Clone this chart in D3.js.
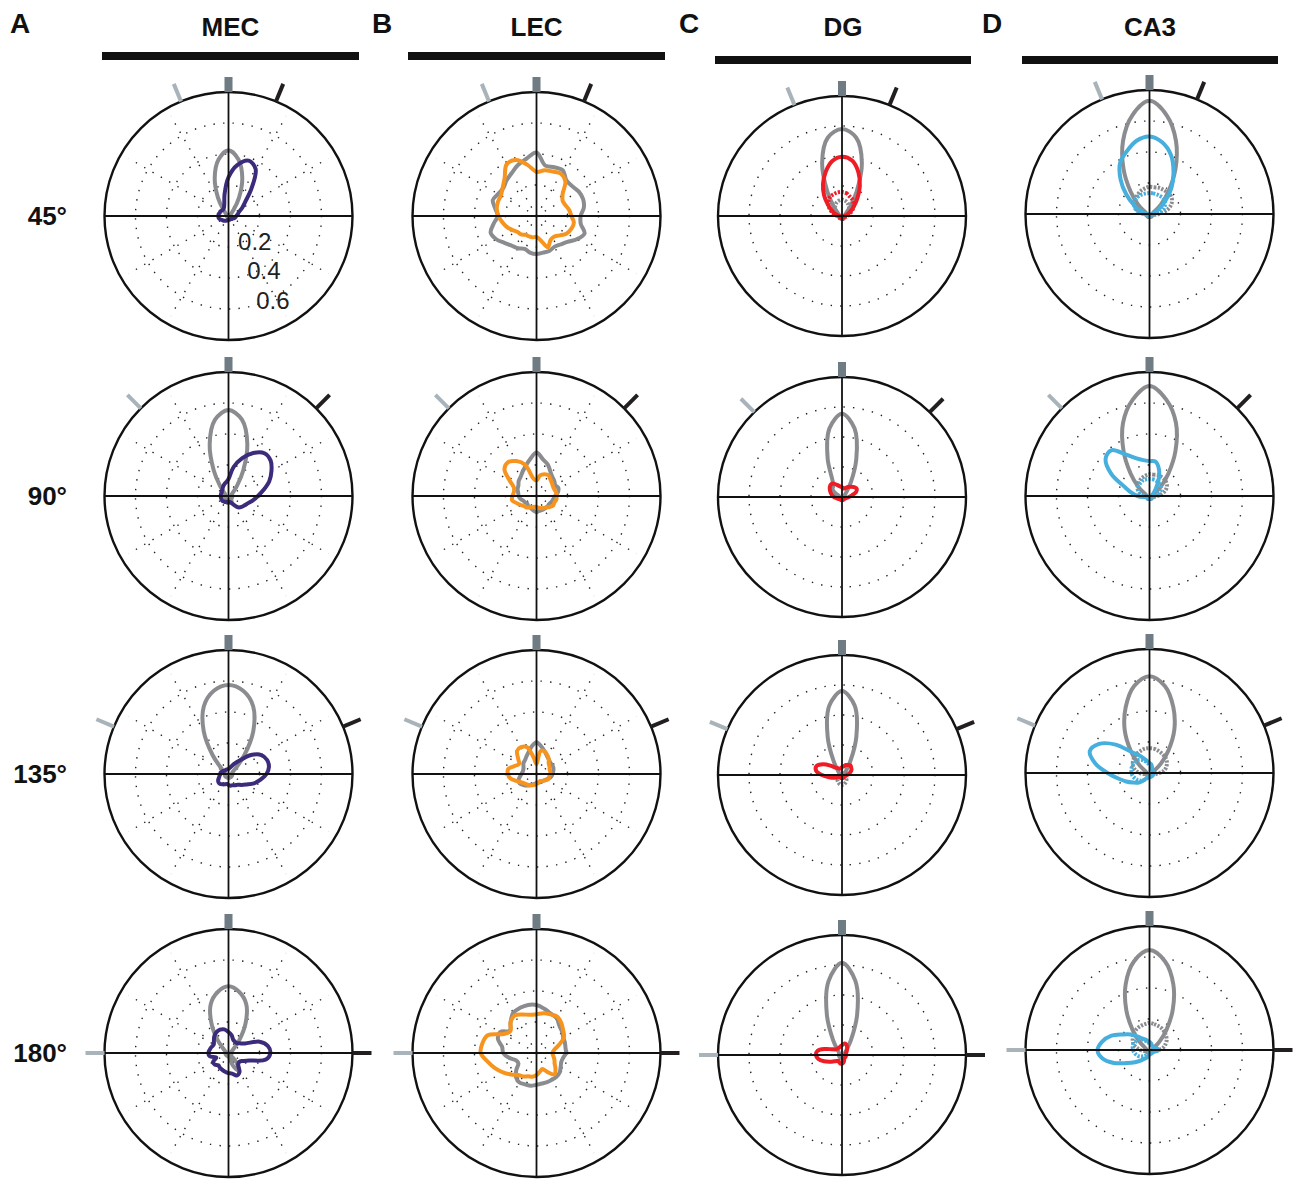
<!DOCTYPE html>
<html>
<head>
<meta charset="utf-8">
<script src="https://cdn.jsdelivr.net/npm/d3@7"></script>
<style>
  body { margin: 0; background: #fff; }
  svg { display: block; }
</style>
</head>
<body>
<svg id="chart" width="1298" height="1180"></svg>
<script>
// ---- categories ----
const regions = ["MEC", "LEC", "DG", "CA3"];
const panelLetters = ["A", "B", "C", "D"];
const rotations = [45, 90, 135, 180];
const rotationLabels = ["45°", "90°", "135°", "180°"];
const ringTicks = [0.2, 0.4, 0.6];
const ringTickLabels = ["0.2", "0.4", "0.6"];
const rMax = 0.8;
// sample directions (degrees clockwise from the standard-cue direction)
const sampleAngles = d3.range(0, 360, 10);

// ---- MEC: standard (gray) and rotated (purple) curves, one row per rotation ----
const mecStandard = [
  [.425,.37,.26,.135,.05,.02,.012,.01,.01,.01,.01,.01,.01,.01,.01,.01,.01,.01,.01,.01,.01,.01,.01,.01,.01,.01,.01,.01,.01,.01,.012,.02,.05,.135,.26,.37],
  [.555,.50,.355,.19,.085,.04,.025,.025,.025,.025,.025,.025,.025,.025,.025,.04,.045,.045,.045,.045,.04,.025,.025,.025,.025,.025,.025,.025,.025,.025,.025,.04,.085,.19,.355,.50],
  [.575,.545,.465,.32,.16,.065,.035,.025,.025,.025,.025,.025,.025,.025,.025,.025,.025,.025,.025,.025,.025,.025,.025,.025,.025,.025,.025,.025,.025,.025,.035,.065,.16,.32,.465,.545],
  [.43,.40,.335,.22,.11,.045,.026,.02,.02,.02,.02,.02,.02,.02,.08,.13,.09,.03,.02,.02,.02,.02,.02,.02,.02,.02,.02,.02,.02,.02,.026,.045,.11,.22,.335,.40]
];
const mecRotated = [
  [.25,.335,.38,.35,.23,.14,.10,.07,.06,.05,.045,.04,.03,.03,.025,.025,.025,.025,.025,.03,.03,.035,.04,.045,.05,.06,.065,.065,.065,.06,.06,.055,.055,.06,.08,.145],
  [.11,.19,.26,.32,.36,.355,.32,.28,.23,.19,.16,.135,.12,.11,.095,.065,.045,.04,.04,.04,.04,.045,.045,.05,.05,.05,.05,.05,.05,.05,.05,.055,.06,.07,.08,.09],
  [.032,.039,.052,.077,.116,.19,.245,.265,.265,.245,.21,.175,.135,.11,.09,.084,.077,.077,.071,.065,.071,.077,.084,.084,.077,.065,.058,.052,.052,.045,.039,.032,.032,.032,.032,.032],
  [.135,.116,.09,.084,.084,.097,.123,.213,.258,.27,.245,.142,.103,.09,.097,.142,.155,.135,.13,.123,.116,.11,.103,.116,.116,.084,.123,.13,.123,.116,.11,.123,.142,.155,.16,.155]
];

// ---- LEC: standard (gray) and rotated (orange) ----
const lecStandard = [
  [.41,.33,.335,.34,.30,.30,.315,.32,.31,.285,.29,.33,.30,.26,.24,.23,.24,.24,.245,.24,.225,.24,.25,.27,.30,.315,.28,.25,.27,.30,.285,.28,.30,.32,.35,.375],
  [.28,.24,.215,.18,.16,.15,.14,.15,.14,.12,.11,.105,.097,.097,.097,.097,.097,.097,.105,.097,.09,.084,.084,.077,.084,.09,.105,.115,.12,.13,.135,.15,.16,.18,.205,.24],
  [.205,.18,.155,.135,.123,.116,.116,.116,.11,.103,.097,.084,.071,.065,.058,.058,.058,.058,.058,.065,.071,.084,.097,.11,.123,.123,.11,.097,.09,.09,.097,.11,.116,.13,.15,.18],
  [.31,.29,.27,.26,.23,.215,.20,.195,.19,.19,.175,.17,.18,.195,.20,.20,.20,.20,.205,.215,.215,.22,.205,.17,.135,.14,.18,.215,.225,.265,.27,.225,.26,.30,.31,.315]
];
const lecRotated = [
  [.285,.30,.305,.315,.29,.22,.195,.20,.215,.225,.245,.24,.225,.195,.175,.18,.215,.16,.135,.14,.14,.14,.155,.16,.18,.205,.225,.245,.26,.265,.265,.285,.32,.385,.385,.335],
  [.10,.135,.15,.155,.14,.13,.123,.123,.13,.13,.13,.123,.123,.11,.097,.09,.084,.077,.071,.071,.077,.084,.097,.103,.116,.135,.16,.155,.148,.155,.20,.27,.285,.26,.215,.115],
  [.065,.15,.155,.14,.123,.103,.097,.09,.09,.09,.084,.084,.077,.065,.058,.052,.052,.058,.065,.071,.077,.084,.09,.097,.11,.135,.17,.185,.185,.15,.13,.155,.195,.20,.185,.11],
  [.25,.26,.265,.27,.25,.225,.205,.155,.116,.103,.11,.123,.135,.16,.18,.142,.11,.123,.142,.155,.16,.175,.185,.215,.25,.285,.32,.36,.355,.335,.245,.22,.26,.28,.265,.25]
];

// ---- DG: standard (gray), rotated (red), and dashed controls ----
const dgStandard = [
  [.58,.53,.375,.19,.085,.04,.026,.02,.02,.02,.02,.02,.02,.02,.02,.02,.02,.02,.02,.02,.02,.02,.02,.02,.02,.02,.02,.02,.02,.02,.026,.04,.085,.19,.375,.53],
  [.555,.465,.27,.115,.045,.026,.02,.02,.02,.02,.02,.02,.02,.02,.02,.02,.02,.02,.02,.02,.02,.02,.02,.02,.02,.02,.02,.02,.02,.02,.05,.08,.09,.12,.27,.465],
  [.56,.47,.27,.11,.045,.026,.02,.02,.02,.02,.02,.02,.02,.02,.02,.02,.02,.02,.02,.02,.02,.02,.02,.02,.02,.02,.02,.02,.02,.02,.02,.026,.045,.11,.27,.47],
  [.615,.50,.285,.115,.045,.026,.02,.02,.02,.02,.02,.02,.02,.02,.02,.02,.02,.02,.02,.02,.02,.02,.02,.02,.02,.02,.02,.02,.02,.02,.02,.026,.045,.115,.285,.50]
];
const dgRotated = [
  [.395,.375,.31,.23,.155,.10,.065,.04,.026,.015,.015,.015,.015,.015,.015,.015,.015,.015,.015,.015,.015,.015,.015,.015,.015,.015,.015,.015,.03,.05,.077,.12,.18,.245,.31,.37],
  [.065,.058,.065,.077,.09,.103,.11,.097,.065,.045,.032,.026,.02,.02,.02,.02,.02,.02,.02,.02,.02,.02,.02,.02,.026,.032,.039,.052,.065,.077,.09,.103,.11,.103,.084,.071],
  [.052,.058,.071,.077,.084,.077,.071,.058,.045,.032,.026,.02,.02,.02,.02,.02,.02,.02,.02,.02,.02,.02,.02,.02,.032,.052,.084,.13,.17,.175,.142,.097,.065,.052,.045,.045],
  [.065,.077,.077,.065,.052,.039,.032,.026,.026,.026,.026,.026,.026,.026,.026,.026,.039,.052,.058,.058,.052,.045,.052,.065,.09,.123,.155,.168,.16,.116,.077,.058,.052,.052,.052,.058]
];
const dgStandardDashed = [
  [.11,.105,.097,.084,.071,.058,.045,.032,.026,.02,.013,.013,.013,.013,.013,.013,.013,.013,.013,.013,.013,.013,.013,.013,.013,.013,.013,.02,.026,.032,.045,.058,.071,.084,.097,.105],
  null,
  [.013,.013,.013,.013,.013,.013,.013,.013,.013,.013,.013,.02,.026,.035,.045,.052,.058,.065,.065,.065,.058,.052,.045,.035,.026,.02,.013,.013,.013,.013,.013,.013,.013,.013,.013,.013],
  null
];
const dgRotatedDashed = [
  [.16,.155,.14,.13,.115,.097,.077,.058,.045,.032,.026,.02,.02,.02,.02,.02,.02,.02,.02,.02,.02,.02,.02,.02,.02,.02,.026,.032,.045,.065,.09,.115,.135,.15,.155,.16],
  null,
  null,
  null
];

// ---- CA3: standard (gray), rotated (blue), and dashed controls ----
const ca3Standard = [
  [.73,.645,.50,.335,.19,.097,.045,.026,.02,.02,.02,.02,.02,.02,.02,.02,.02,.02,.02,.02,.02,.02,.02,.02,.02,.02,.02,.02,.02,.026,.045,.097,.19,.335,.50,.645],
  [.71,.63,.50,.335,.19,.097,.045,.026,.02,.02,.02,.02,.02,.02,.02,.02,.02,.02,.02,.02,.02,.02,.02,.02,.02,.02,.02,.02,.02,.026,.045,.097,.19,.335,.50,.63],
  [.625,.57,.45,.32,.19,.097,.045,.026,.02,.02,.02,.02,.02,.02,.02,.02,.02,.02,.02,.02,.02,.02,.02,.02,.02,.02,.02,.02,.02,.026,.045,.097,.19,.32,.45,.57],
  [.645,.58,.45,.30,.17,.084,.039,.026,.02,.02,.02,.02,.02,.02,.02,.02,.02,.02,.02,.02,.02,.02,.02,.02,.02,.02,.02,.02,.02,.026,.039,.084,.17,.30,.45,.58]
];
const ca3Rotated = [
  [.50,.47,.405,.31,.22,.135,.077,.045,.026,.013,.013,.013,.013,.013,.013,.013,.013,.013,.013,.013,.013,.013,.013,.013,.013,.013,.013,.013,.032,.065,.116,.195,.29,.38,.43,.48],
  [.225,.225,.18,.116,.065,.039,.026,.02,.02,.02,.02,.02,.02,.02,.02,.02,.02,.02,.02,.02,.02,.02,.02,.02,.02,.02,.039,.077,.116,.17,.285,.37,.385,.31,.26,.235],
  [.065,.058,.045,.032,.026,.026,.026,.026,.026,.026,.026,.026,.026,.026,.026,.026,.026,.026,.026,.026,.026,.039,.065,.097,.123,.16,.205,.27,.355,.41,.375,.285,.175,.13,.097,.077],
  [.052,.045,.039,.032,.032,.032,.032,.039,.052,.058,.045,.032,.026,.026,.026,.026,.026,.026,.026,.039,.052,.065,.09,.123,.168,.245,.31,.335,.31,.265,.20,.155,.11,.084,.071,.058]
];
const ca3StandardDashed = [
  [.175,.175,.18,.18,.18,.18,.168,.142,.103,.058,.032,.02,.02,.02,.02,.02,.02,.02,.02,.02,.02,.02,.02,.02,.02,.02,.026,.039,.065,.09,.11,.123,.135,.148,.16,.168],
  [.14,.14,.145,.145,.145,.14,.13,.11,.08,.05,.03,.02,.02,.02,.02,.02,.02,.02,.02,.02,.02,.02,.02,.02,.02,.02,.022,.032,.05,.07,.088,.10,.11,.12,.128,.135],
  [.16,.16,.155,.15,.145,.14,.13,.115,.097,.065,.039,.02,.02,.02,.02,.02,.02,.02,.02,.02,.02,.02,.02,.02,.02,.02,.039,.065,.09,.11,.125,.135,.145,.15,.155,.16],
  [.175,.17,.165,.16,.15,.14,.128,.11,.09,.06,.035,.02,.02,.02,.02,.02,.02,.02,.02,.02,.02,.02,.02,.02,.02,.02,.035,.06,.085,.11,.125,.14,.15,.16,.165,.17]
];
const ca3RotatedDashed = [
  [.135,.135,.135,.135,.135,.13,.115,.097,.065,.032,.02,.013,.013,.013,.013,.013,.013,.013,.013,.013,.013,.013,.013,.013,.013,.013,.02,.032,.065,.097,.115,.13,.135,.135,.135,.135],
  [.11,.11,.11,.105,.10,.095,.085,.07,.05,.03,.018,.013,.013,.013,.013,.013,.013,.013,.013,.013,.013,.013,.013,.013,.013,.013,.018,.03,.05,.07,.085,.095,.10,.105,.11,.11],
  [.05,.045,.04,.035,.03,.026,.02,.02,.02,.02,.02,.02,.02,.02,.02,.02,.02,.02,.02,.026,.032,.045,.06,.077,.09,.10,.11,.115,.12,.12,.12,.115,.11,.097,.08,.065],
  [.04,.035,.03,.026,.02,.02,.02,.02,.02,.02,.02,.02,.02,.02,.02,.02,.02,.02,.02,.02,.026,.035,.05,.065,.08,.09,.10,.105,.11,.11,.105,.10,.09,.075,.06,.05]
];

const regionSeries = [
  { standard: mecStandard, rotated: mecRotated, standardDashed: null, rotatedDashed: null, spokes: true },
  { standard: lecStandard, rotated: lecRotated, standardDashed: null, rotatedDashed: null, spokes: true },
  { standard: dgStandard, rotated: dgRotated, standardDashed: dgStandardDashed, rotatedDashed: dgRotatedDashed, spokes: false },
  { standard: ca3Standard, rotated: ca3Rotated, standardDashed: ca3StandardDashed, rotatedDashed: ca3RotatedDashed, spokes: false }
];

// ---- layout and styles ----
const regionColors = ["#3c2a7b", "#f7941d", "#ee1c25", "#46afdd"];
const standardColor = "#8a8c8f";
const font = "'Liberation Sans', Arial, Helvetica, sans-serif";
const colX = [228.5, 536.5, 842, 1149.5];
const rowY = [[216, 496, 774, 1053], [216, 496, 774, 1053], [216, 497, 775, 1055], [214, 496, 773, 1050]];
const R = 124;
const radiusY = [124, 124, 120, 124];
const bars = [[102, 359, 56], [408, 665, 56], [715, 971, 60], [1022, 1278, 60]];
const letterX = [10, 372, 679, 982];
const curveWidth = 4;

const svg = d3.select("#chart");
const rScale = d3.scaleLinear().domain([0, rMax]).range([0, R]);
const toRad = d => d * Math.PI / 180;

const curveLine = d3.lineRadial()
  .angle((d, i) => toRad(sampleAngles[i]))
  .radius(d => rScale(d))
  .curve(d3.curveCatmullRomClosed.alpha(0.5));

// column headings
regions.forEach((name, c) => {
  const [x0, x1, by] = bars[c];
  svg.append("text")
    .attr("x", letterX[c]).attr("y", 33)
    .attr("font-family", font).attr("font-weight", "bold").attr("font-size", 28)
    .attr("fill", "#111").text(panelLetters[c]);
  svg.append("text")
    .attr("x", (x0 + x1) / 2).attr("y", 36)
    .attr("text-anchor", "middle")
    .attr("font-family", font).attr("font-weight", "bold").attr("font-size", 26)
    .attr("fill", "#111").text(name);
  svg.append("rect")
    .attr("x", x0).attr("y", by - 4).attr("width", x1 - x0).attr("height", 8)
    .attr("fill", "#111");
});

// row labels
rotationLabels.forEach((lab, r) => {
  svg.append("text")
    .attr("x", 67).attr("y", rowY[0][r] + 9)
    .attr("text-anchor", "end")
    .attr("font-family", font).attr("font-weight", "bold").attr("font-size", 26)
    .attr("fill", "#111").text(lab);
});

// panels
regions.forEach((name, c) => {
  const series = regionSeries[c];
  const ry = radiusY[c];
  rotations.forEach((rot, r) => {
    const g = svg.append("g").attr("transform", `translate(${colX[c]},${rowY[c][r]})`);
    const inner = g.append("g").attr("transform", `scale(1,${ry / R})`);

    // dotted grid rings
    inner.selectAll("circle.ring").data(ringTicks).join("circle")
      .attr("class", "ring")
      .attr("r", d => rScale(d))
      .attr("fill", "none").attr("stroke", "#222").attr("stroke-width", 1.4)
      .attr("stroke-dasharray", "1.4 8.2")
      .attr("vector-effect", "non-scaling-stroke");

    // dotted spokes
    if (series.spokes) {
      const spokeAngles = [30, 60, 120, 150, 210, 240, 300, 330];
      inner.selectAll("line.spoke").data(spokeAngles).join("line")
        .attr("class", "spoke")
        .attr("x1", 0).attr("y1", 0)
        .attr("x2", d => rScale(rMax * 0.93) * Math.sin(toRad(d)))
        .attr("y2", d => -rScale(rMax * 0.93) * Math.cos(toRad(d)))
        .attr("stroke", "#222").attr("stroke-width", 1.4)
        .attr("stroke-dasharray", "1.4 8.2")
        .attr("vector-effect", "non-scaling-stroke");
    }

    // axes
    g.append("line").attr("x1", 0).attr("x2", 0).attr("y1", -ry).attr("y2", ry)
      .attr("stroke", "#111").attr("stroke-width", 1.8);
    g.append("line").attr("x1", -R).attr("x2", R).attr("y1", 0).attr("y2", 0)
      .attr("stroke", "#111").attr("stroke-width", 1.8);
    g.append("ellipse").attr("rx", R).attr("ry", ry)
      .attr("fill", "none").attr("stroke", "#111").attr("stroke-width", 2.4);

    // cue markers: standard (square), light and dark cue directions
    g.append("rect").attr("x", -4).attr("y", -ry - 15).attr("width", 8).attr("height", 15)
      .attr("fill", "#6f7c84");
    const cueTick = (angle, color) => {
      const a = toRad(angle);
      const sx = R * Math.sin(a), sy = -ry * Math.cos(a);
      g.append("line")
        .attr("x1", sx).attr("y1", sy)
        .attr("x2", sx + 19 * Math.sin(a)).attr("y2", sy - 19 * Math.cos(a))
        .attr("stroke", color).attr("stroke-width", 4);
    };
    cueTick(-rot / 2, "#a9b3ba");
    cueTick(rot / 2, "#231f20");

    // tuning curves
    const color = regionColors[c];
    inner.append("path").datum(series.standard[r])
      .attr("d", curveLine)
      .attr("fill", "none").attr("stroke", standardColor).attr("stroke-width", curveWidth)
      .attr("stroke-linejoin", "round")
      .attr("vector-effect", "non-scaling-stroke");
    if (series.standardDashed && series.standardDashed[r]) {
      inner.append("path").datum(series.standardDashed[r])
        .attr("d", curveLine)
        .attr("fill", "none").attr("stroke", standardColor).attr("stroke-width", 4)
        .attr("stroke-dasharray", "2.2 1.4")
        .attr("vector-effect", "non-scaling-stroke");
    }
    inner.append("path").datum(series.rotated[r])
      .attr("d", curveLine)
      .attr("fill", "none").attr("stroke", color).attr("stroke-width", curveWidth)
      .attr("stroke-linejoin", "round")
      .attr("vector-effect", "non-scaling-stroke");
    if (series.rotatedDashed && series.rotatedDashed[r]) {
      inner.append("path").datum(series.rotatedDashed[r])
        .attr("d", curveLine)
        .attr("fill", "none").attr("stroke", color).attr("stroke-width", 4)
        .attr("stroke-dasharray", "2.2 1.4")
        .attr("vector-effect", "non-scaling-stroke");
    }

    // radial tick labels on the first panel
    if (c === 0 && r === 0) {
      const labelAngle = toRad(163);
      g.selectAll("text.rtick").data(ringTicks).join("text")
        .attr("class", "rtick")
        .attr("x", d => (rScale(d) - 5) * Math.sin(labelAngle) + 2)
        .attr("y", d => -(rScale(d) - 5) * Math.cos(labelAngle))
        .attr("dy", "0.36em")
        .attr("font-family", font).attr("font-size", 24)
        .attr("fill", "#222")
        .text((d, i) => ringTickLabels[i]);
    }
  });
});
</script>
</body>
</html>
